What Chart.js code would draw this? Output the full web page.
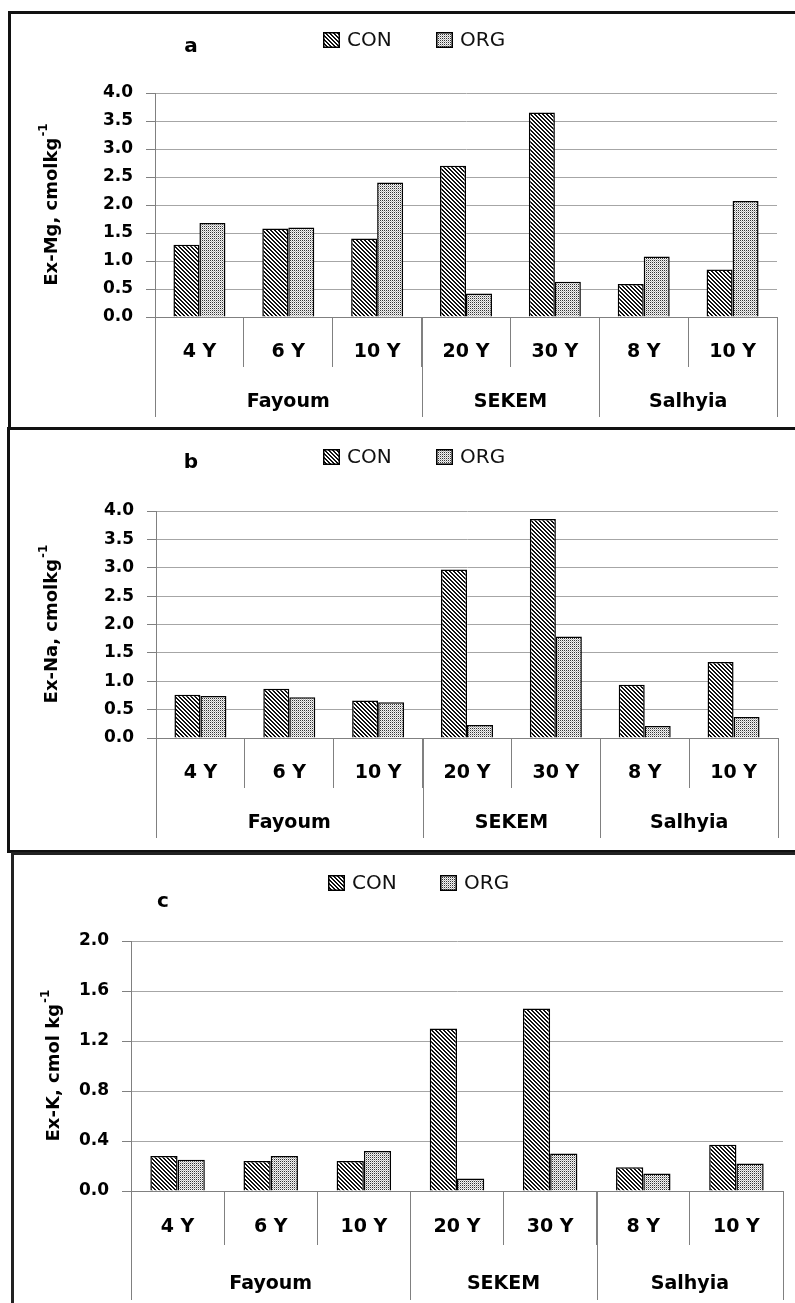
<!DOCTYPE html>
<html>
<head>
<meta charset="utf-8">
<script src="https://cdn.jsdelivr.net/npm/chart.js@4.4.0/dist/chart.umd.min.js"></script>
<style>
  html, body { margin: 0; padding: 0; background: #fff; }
  body { width: 795px; height: 1303px; position: relative; overflow: hidden; }
  .frame { position: absolute; box-sizing: border-box; border: 3px solid #111; }
  canvas { position: absolute; left: 0; }
</style>
</head>
<body>
<div class="frame" style="left:8px; top:11px; width:820px; height:419px;"></div>
<div class="frame" style="left:7px; top:427px; width:820px; height:426px;"></div>
<div class="frame" style="left:11px; top:852px; width:820px; height:480px; border-color:#222;"></div>
<canvas id="chartA" width="795" height="430" style="top:0"></canvas>
<canvas id="chartB" width="795" height="422" style="top:430px"></canvas>
<canvas id="chartC" width="795" height="448" style="top:855px"></canvas>
<script>
// categories
const years = ['4 Y', '6 Y', '10 Y', '20 Y', '30 Y', '8 Y', '10 Y'];
const sites = ['Fayoum', 'SEKEM', 'Salhyia'];
const siteSpans = [3, 2, 2];
const seriesNames = ['CON', 'ORG'];

// a: Ex-Mg
const mgCon = [1.29, 1.58, 1.40, 2.70, 3.65, 0.59, 0.85];
const mgOrg = [1.68, 1.60, 2.40, 0.42, 0.63, 1.08, 2.07];
// b: Ex-Na
const naCon = [0.76, 0.87, 0.66, 2.97, 3.86, 0.94, 1.34];
const naOrg = [0.74, 0.72, 0.63, 0.23, 1.79, 0.21, 0.37];
// c: Ex-K
const kCon = [0.28, 0.24, 0.24, 1.30, 1.46, 0.19, 0.37];
const kOrg = [0.25, 0.28, 0.32, 0.10, 0.30, 0.14, 0.22];

const boldFont = '"DejaVu Sans", sans-serif';

function makeHatch() {
    const c = document.createElement('canvas');
    c.width = 4; c.height = 4;
    const g = c.getContext('2d');
    g.fillStyle = '#fff';
    g.fillRect(0, 0, 4, 4);
    g.fillStyle = '#111';
    for (let y = 0; y < 4; y++) {
        for (let x = 0; x < 4; x++) {
            if (((x - y) % 4 + 4) % 4 < 2) g.fillRect(x, y, 1, 1);
        }
    }
    return g.createPattern(c, 'repeat');
}

function makeDots() {
    const c = document.createElement('canvas');
    c.width = 2; c.height = 2;
    const g = c.getContext('2d');
    g.fillStyle = '#f4f4f4';
    g.fillRect(0, 0, 2, 2);
    g.fillStyle = '#333';
    g.fillRect(0, 0, 1, 1);
    g.fillStyle = '#b8b8b8';
    g.fillRect(1, 1, 1, 1);
    return g.createPattern(c, 'repeat');
}

const hatch = makeHatch();
const dots = makeDots();

// letter, legend, y title with superscript, site groups under the axis
const panelDeco = {
    id: 'panelDeco',
    afterDraw(chart, args, opts) {
        const ctx = chart.ctx;
        const area = chart.chartArea;
        const xs = chart.scales.x;
        ctx.save();

        ctx.fillStyle = '#000';
        ctx.font = 'bold 20px ' + boldFont;
        ctx.textAlign = 'center';
        ctx.textBaseline = 'middle';
        ctx.fillText(opts.letter, opts.letterX, opts.letterY);

        // legend
        ctx.font = '20px ' + boldFont;
        ctx.textAlign = 'left';
        chart.data.datasets.forEach((ds, i) => {
            const bx = opts.legendX[i];
            const by = opts.legendY - 8;
            ctx.fillStyle = ds.backgroundColor;
            ctx.fillRect(bx, by, 17, 16);
            ctx.strokeStyle = '#000';
            ctx.lineWidth = 1.5;
            ctx.strokeRect(bx + 0.75, by + 0.75, 15.5, 14.5);
            ctx.fillStyle = '#111';
            ctx.fillText(ds.label, bx + 24, opts.legendY + 1);
        });

        // y title
        ctx.save();
        ctx.translate(opts.titleX, (area.top + area.bottom) / 2);
        ctx.rotate(-Math.PI / 2);
        ctx.font = 'bold 18px ' + boldFont;
        const mw = ctx.measureText(opts.title).width;
        ctx.font = 'bold 12px ' + boldFont;
        const sw = ctx.measureText(opts.sup).width;
        const x0 = -(mw + sw) / 2;
        ctx.fillStyle = '#000';
        ctx.textBaseline = 'middle';
        ctx.font = 'bold 18px ' + boldFont;
        ctx.fillText(opts.title, x0, 0);
        ctx.font = 'bold 12px ' + boldFont;
        ctx.fillText(opts.sup, x0 + mw + 1, -8);
        ctx.restore();

        // site groups
        ctx.strokeStyle = '#808080';
        ctx.lineWidth = 1;
        ctx.font = 'bold 19px ' + boldFont;
        ctx.textAlign = 'center';
        ctx.fillStyle = '#000';
        let start = 0;
        const edge = i => Math.round(xs.getPixelForValue(i - 0.5)) + 0.5;
        ctx.beginPath();
        ctx.moveTo(edge(0), area.bottom);
        ctx.lineTo(edge(0), area.bottom + opts.groupLine);
        sites.forEach((s, i) => {
            const end = start + siteSpans[i];
            ctx.moveTo(edge(end), area.bottom);
            ctx.lineTo(edge(end), area.bottom + opts.groupLine);
            const cx = (xs.getPixelForValue(start - 0.5) + xs.getPixelForValue(end - 0.5)) / 2;
            ctx.fillText(s, cx, area.bottom + opts.groupLabel);
            start = end;
        });
        ctx.stroke();
        ctx.restore();
    }
};

function buildChart(id, con, org, yMax, yStep, deco, lay) {
    return new Chart(document.getElementById(id), {
        type: 'bar',
        data: {
            labels: years,
            datasets: [
                { label: seriesNames[0], data: con, backgroundColor: hatch, borderColor: '#000', borderWidth: 1.5,
                  categoryPercentage: 0.585, barPercentage: 1.0 },
                { label: seriesNames[1], data: org, backgroundColor: dots, borderColor: '#000', borderWidth: 1.5,
                  categoryPercentage: 0.585, barPercentage: 1.0 }
            ]
        },
        options: {
            responsive: false,
            animation: false,
            layout: { padding: lay.padding },
            plugins: {
                legend: { display: false },
                tooltip: { enabled: false },
                panelDeco: deco
            },
            scales: {
                x: {
                    grid: { offset: true, drawOnChartArea: false, drawTicks: true,
                            tickLength: deco.tickLen, color: '#808080' },
                    border: { color: '#808080', width: 1 },
                    ticks: { font: { family: boldFont, size: 19, weight: 'bold' }, color: '#000',
                             padding: deco.labelPad, maxRotation: 0, autoSkip: false },
                    afterFit: s => { s.height = lay.xHeight; }
                },
                y: {
                    min: 0,
                    max: yMax,
                    ticks: { stepSize: yStep, callback: v => Number(v).toFixed(1),
                             font: { family: boldFont, size: 17, weight: 'bold' }, color: '#000', padding: 13 },
                    grid: { color: '#a6a6a6', tickColor: '#808080', tickLength: 9 },
                    border: { color: '#808080', width: 1 },
                    afterFit: s => { s.width = lay.yWidth; }
                }
            }
        },
        plugins: [panelDeco]
    });
}

buildChart('chartA', mgCon, mgOrg, 4, 0.5,
    { letter: 'a', letterX: 191, letterY: 47, legendX: [323, 436], legendY: 40,
      title: 'Ex-Mg, cmolkg', sup: '-1', titleX: 52,
      tickLen: 50, labelPad: -26, groupLabel: 85, groupLine: 100 },
    { padding: { left: 0, right: 18, top: 93, bottom: 3 }, xHeight: 110, yWidth: 155 });

buildChart('chartB', naCon, naOrg, 4, 0.5,
    { letter: 'b', letterX: 191, letterY: 33, legendX: [323, 436], legendY: 27,
      title: 'Ex-Na, cmolkg', sup: '-1', titleX: 52,
      tickLen: 50, labelPad: -26, groupLabel: 85, groupLine: 100 },
    { padding: { left: 0, right: 17, top: 81, bottom: 4 }, xHeight: 110, yWidth: 156 });

buildChart('chartC', kCon, kOrg, 2, 0.4,
    { letter: 'c', letterX: 163, letterY: 47, legendX: [328, 440], legendY: 28,
      title: 'Ex-K, cmol kg', sup: '-1', titleX: 54,
      tickLen: 54, labelPad: -29, groupLabel: 93, groupLine: 109 },
    { padding: { left: 0, right: 12, top: 86, bottom: 0 }, xHeight: 112, yWidth: 131 });
</script>
</body>
</html>
